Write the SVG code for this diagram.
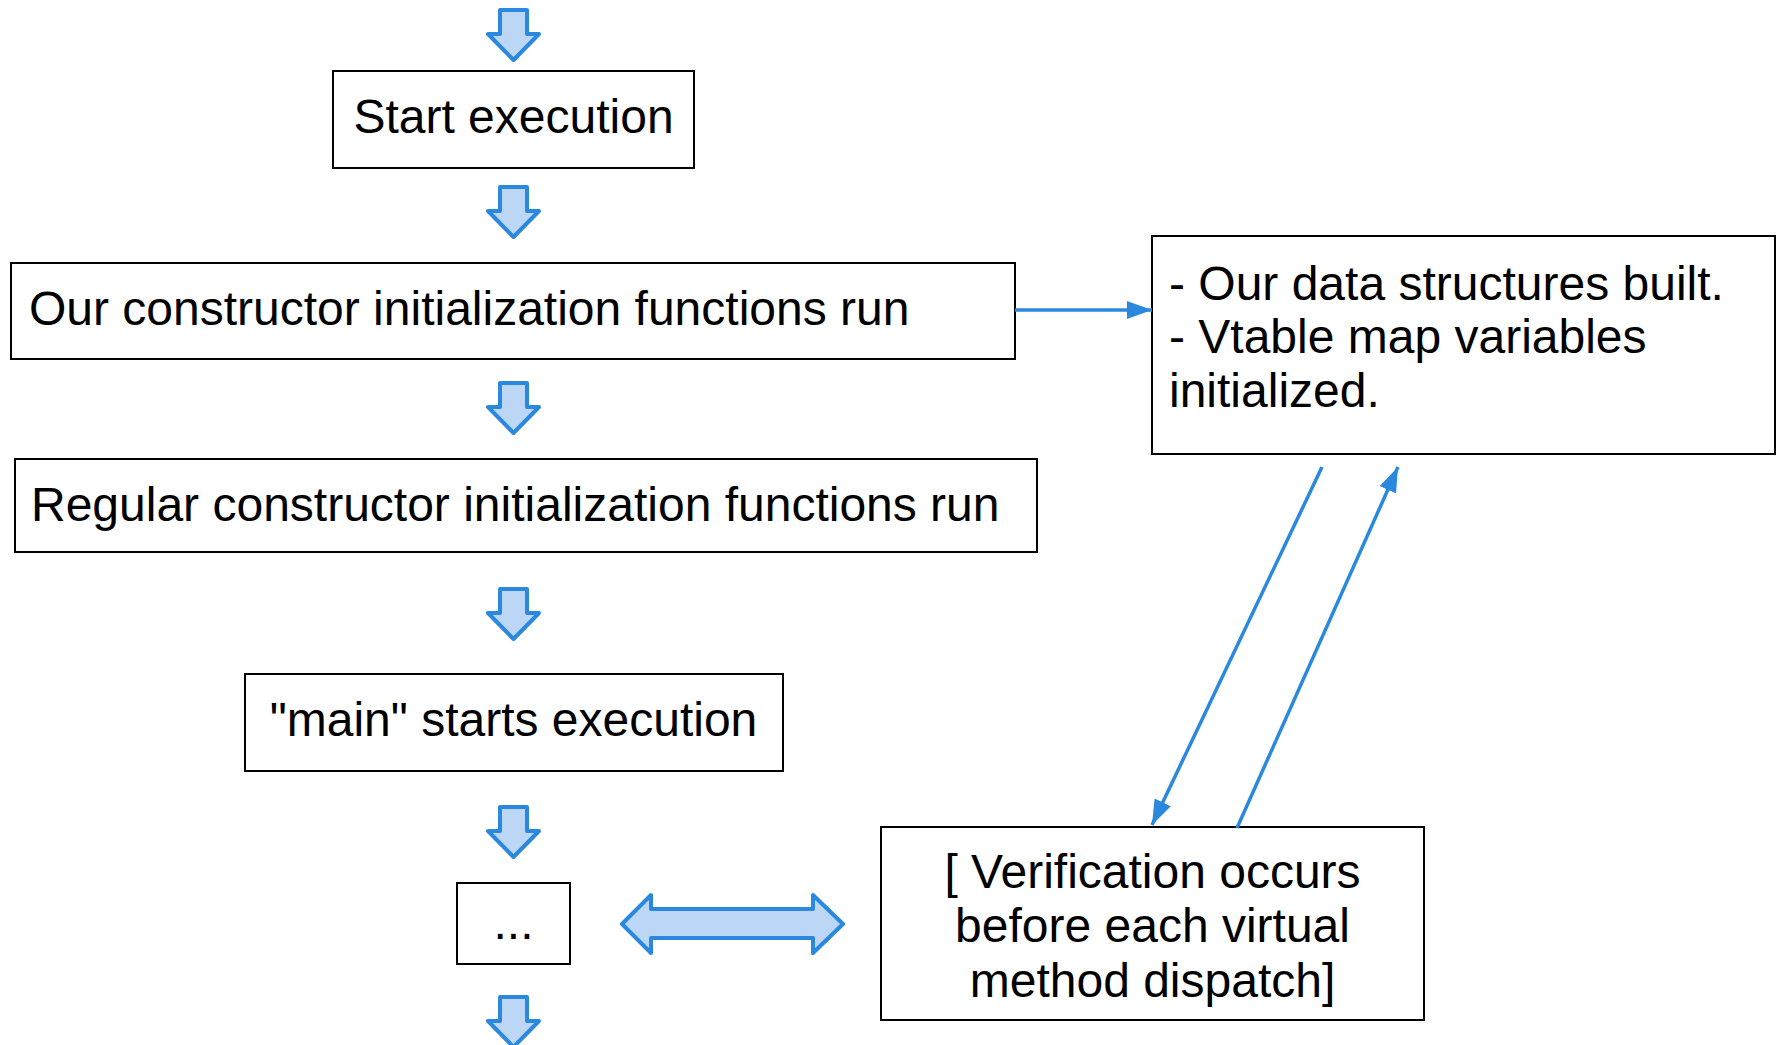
<svg xmlns="http://www.w3.org/2000/svg" width="1777" height="1045" viewBox="0 0 1777 1045">
  <style>
    .box { fill: #ffffff; stroke: #000000; stroke-width: 2; }
    .label { font-family: "Liberation Sans", Arial, sans-serif; font-size: 48px; fill: #000000; }
    .mid { text-anchor: middle; }
    .block { fill: #BBD7F5; stroke: #2A88DE; stroke-width: 4; stroke-linejoin: round; }
    .link { stroke: #2A88DE; stroke-width: 3.5; fill: none; }
  </style>
  <defs>
    <!-- down-pointing block arrow, top edge at y=0 -->
    <path id="down" d="M500,0 H527 V24 H539 L513.5,50 L488,24 H500 Z"/>
    <marker id="tip" markerUnits="userSpaceOnUse" markerWidth="28" markerHeight="20" refX="25" refY="9" orient="auto">
      <path d="M0,0 L25,9 L0,18 Z" fill="#2A88DE"/>
    </marker>
  </defs>
  <rect width="1777" height="1045" fill="#ffffff"/>

  <!-- flow arrows between steps -->
  <g id="flow-arrows">
    <use href="#down" class="block" transform="translate(0,10)"/>
    <use href="#down" class="block" transform="translate(0,187)"/>
    <use href="#down" class="block" transform="translate(0,383)"/>
    <use href="#down" class="block" transform="translate(0,589)"/>
    <use href="#down" class="block" transform="translate(0,807)"/>
    <use href="#down" class="block" transform="translate(0,997)"/>
    <path class="block" d="M622,924 L651,895 V909 H813 V895 L843,924 L813,953 V938 H651 V953 Z"/>
  </g>

  <g id="start">
    <rect class="box" x="333" y="71" width="361" height="97"/>
    <text class="label mid" x="513.5" y="133">Start execution</text>
  </g>

  <g id="our-ctors">
    <rect class="box" x="11" y="263" width="1004" height="96"/>
    <text class="label" x="29" y="325">Our constructor initialization functions run</text>
  </g>

  <g id="regular-ctors">
    <rect class="box" x="15" y="459" width="1022" height="93"/>
    <text class="label" x="31" y="521">Regular constructor initialization functions run</text>
  </g>

  <g id="main">
    <rect class="box" x="245" y="674" width="538" height="97"/>
    <text class="label mid" x="513.5" y="736">"main" starts execution</text>
  </g>

  <g id="ellipsis">
    <rect class="box" x="457" y="883" width="113" height="81"/>
    <text class="label mid" x="513.5" y="939">...</text>
  </g>

  <g id="data-structures">
    <rect class="box" x="1152" y="236" width="623" height="218"/>
    <text class="label" x="1169" y="300">- Our data structures built.</text>
    <text class="label" x="1169" y="353">- Vtable map variables</text>
    <text class="label" x="1169" y="407">initialized.</text>
  </g>

  <g id="verification">
    <rect class="box" x="881" y="827" width="543" height="193"/>
    <text class="label mid" x="1152.5" y="888">[ Verification occurs</text>
    <text class="label mid" x="1152.5" y="942">before each virtual</text>
    <text class="label mid" x="1152.5" y="997">method dispatch]</text>
  </g>

  <g id="connectors">
    <line class="link" x1="1015" y1="310" x2="1152" y2="310" marker-end="url(#tip)"/>
    <line class="link" x1="1322" y1="467" x2="1152" y2="825" marker-end="url(#tip)"/>
    <line class="link" x1="1237" y1="828" x2="1398" y2="467" marker-end="url(#tip)"/>
  </g>
</svg>
